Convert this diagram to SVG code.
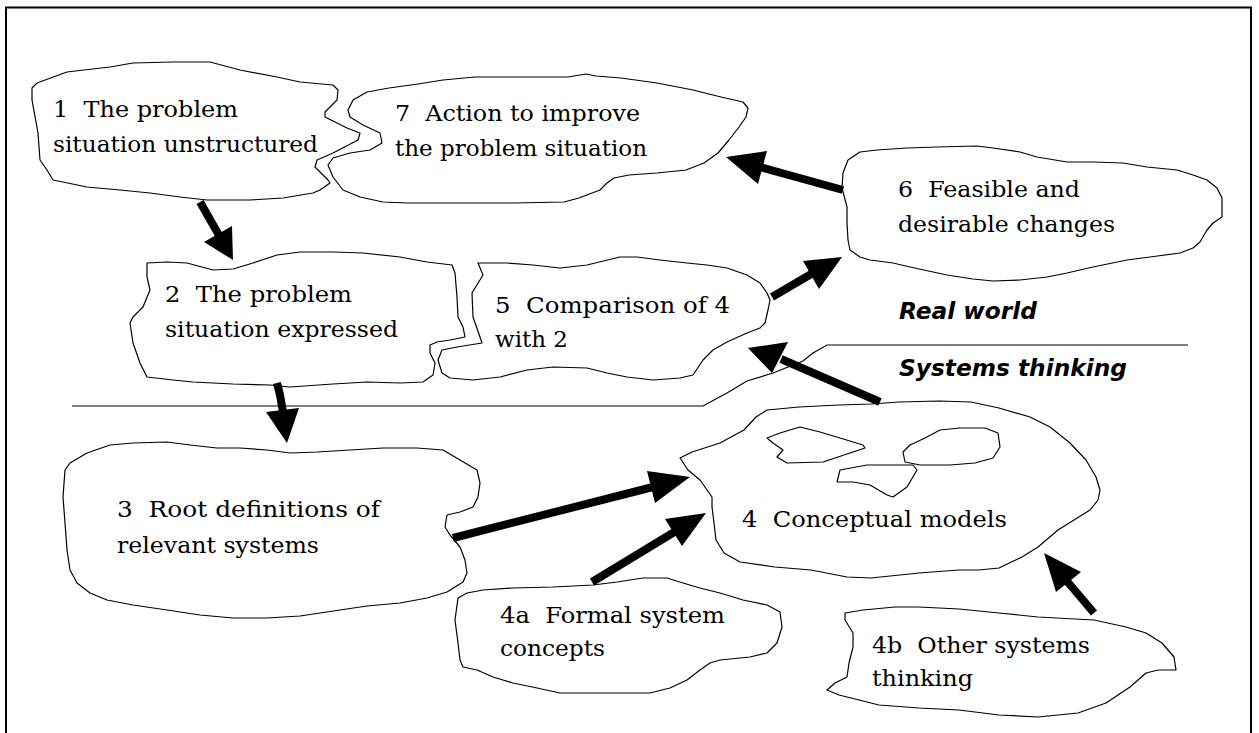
<svg xmlns="http://www.w3.org/2000/svg" width="1259" height="733" viewBox="0 0 1259 733">
<style>
.blob{fill:#fff;stroke:#000;stroke-width:1.2;stroke-linejoin:round}
.lbl{font-family:"DejaVu Serif","Liberation Serif",serif;font-size:23px;fill:#000;white-space:pre}
.zone{font-family:"DejaVu Sans","Liberation Sans",sans-serif;font-weight:bold;font-style:italic;font-size:23px;fill:#000}
.shaft{stroke:#000;stroke-width:8;fill:none;stroke-linejoin:round}
.head{fill:#000}
.rule{stroke:#000;stroke-width:1.2;fill:none}
</style>
<rect x="6" y="7.5" width="1245" height="800" fill="#fff" stroke="#000" stroke-width="2"/>
<g id="divider">
<polyline class="rule" points="72,406 703,406 727,393 747,381 773,373 803,361 813,353 827,345 1188,345"/>
<text class="zone" x="899" y="319" textLength="138" lengthAdjust="spacingAndGlyphs">Real world</text>
<text class="zone" x="899" y="376" textLength="228" lengthAdjust="spacingAndGlyphs">Systems thinking</text>
</g>
<g id="node-1">
<polygon class="blob" points="32,100 32,88 37,83 67,72 110,67 133,63 173,62 210,62 240,70 277,77 300,82 333,85 338,90 337,100 325,112 325,117 347,128 360,133 358,140 333,153 317,160 315,167 328,180 330,183 320,190 313,193 283,198 250,200 207,200 180,197 150,193 120,190 87,187 53,180 47,170 40,160 38,133"/>
<text class="lbl" x="53" y="117" textLength="185" lengthAdjust="spacingAndGlyphs">1  The problem</text>
<text class="lbl" x="53" y="152" textLength="265" lengthAdjust="spacingAndGlyphs">situation unstructured</text>
</g>
<g id="node-7">
<polygon class="blob" points="367,92 389,88 418,84 443,80 475,77 514,77 568,77 586,74 596,76 621,78 657,83 693,90 721,97 743,102 748,108 746,117 739,127 729,140 718,153 704,163 686,170 657,173 629,175 614,178 607,183 600,190 579,198 564,202 514,203 439,203 407,203 383,202 360,197 343,190 333,177 328,165 333,158 350,153 370,150 382,143 380,133 363,125 350,117 348,110 353,100"/>
<text class="lbl" x="395" y="121" textLength="245" lengthAdjust="spacingAndGlyphs">7  Action to improve</text>
<text class="lbl" x="395" y="156" textLength="252" lengthAdjust="spacingAndGlyphs">the problem situation</text>
</g>
<g id="node-6">
<polygon class="blob" points="848,160 860,152 877,150 907,148 937,147 977,146 993,148 1020,152 1037,157 1067,162 1093,162 1123,163 1147,167 1177,170 1193,175 1207,180 1217,188 1222,198 1222,217 1213,223 1207,230 1200,242 1193,248 1180,253 1150,257 1127,260 1093,267 1067,273 1047,277 1020,280 993,281 973,279 947,275 910,267 893,263 870,260 860,257 850,250 848,240 847,223 847,207 842,188 843,173"/>
<text class="lbl" x="898" y="197" textLength="182" lengthAdjust="spacingAndGlyphs">6  Feasible and</text>
<text class="lbl" x="898" y="232" textLength="217" lengthAdjust="spacingAndGlyphs">desirable changes</text>
</g>
<g id="node-2">
<polygon class="blob" points="147,263 167,262 187,263 213,270 233,269 253,263 277,255 300,252 333,252 363,253 400,257 427,262 452,265 455,273 457,297 458,317 463,327 465,337 450,340 437,342 430,345 430,353 435,363 433,375 423,382 400,383 367,382 333,384 290,387 270,385 233,384 213,383 193,382 173,380 147,377 140,363 133,343 130,323 133,317 143,307 150,290 147,277"/>
<text class="lbl" x="165" y="302" textLength="187" lengthAdjust="spacingAndGlyphs">2  The problem</text>
<text class="lbl" x="165" y="337" textLength="233" lengthAdjust="spacingAndGlyphs">situation expressed</text>
</g>
<g id="node-5">
<polygon class="blob" points="478,263 507,263 533,265 560,268 587,265 620,257 637,257 660,260 687,263 707,265 727,268 747,275 760,283 767,293 770,300 768,310 765,323 760,328 747,333 727,342 713,350 703,360 693,375 680,378 653,380 627,377 607,373 587,368 553,367 527,370 500,377 473,380 450,378 442,373 438,360 442,350 457,347 482,343 480,337 473,317 472,293 483,275"/>
<text class="lbl" x="495" y="313" textLength="235" lengthAdjust="spacingAndGlyphs">5  Comparison of 4</text>
<text class="lbl" x="495" y="347" textLength="73" lengthAdjust="spacingAndGlyphs">with 2</text>
</g>
<g id="node-3">
<polygon class="blob" points="65,470 70,463 87,453 110,445 133,443 167,442 190,445 217,448 240,448 267,450 290,453 317,452 350,450 383,448 417,448 443,450 460,460 477,470 480,483 478,497 473,507 460,512 447,515 445,527 450,535 460,547 465,560 467,573 463,582 447,592 427,598 400,603 367,606 340,610 300,616 267,618 233,618 200,615 167,610 133,605 107,600 90,593 77,583 70,570 67,550 65,523 63,497"/>
<text class="lbl" x="117" y="517" textLength="263" lengthAdjust="spacingAndGlyphs">3  Root definitions of</text>
<text class="lbl" x="117" y="553" textLength="202" lengthAdjust="spacingAndGlyphs">relevant systems</text>
</g>
<g id="node-4">
<polygon class="blob" points="680,458 692,452 720,443 744,430 756,417 767,410 799,407 839,405 871,404 899,402 939,401 971,402 999,408 1030,417 1050,427 1070,443 1086,460 1096,477 1100,490 1098,500 1090,510 1074,520 1058,530 1038,547 1022,557 999,568 979,570 959,570 919,573 871,578 847,577 811,570 775,567 740,562 724,553 716,540 714,523 712,507 712,497 700,480 688,470"/>
<polygon class="blob" points="767,438 780,433 800,427 820,432 840,438 863,445 865,448 850,453 823,462 787,463 777,457 783,450 773,443"/>
<polygon class="blob" points="905,462 903,452 910,445 925,438 940,430 960,428 985,428 998,433 1000,447 993,458 975,463 950,465 920,465"/>
<polygon class="blob" points="837,482 840,470 867,465 913,465 917,470 907,487 893,497 887,495 870,485 853,482"/>
<text class="lbl" x="742" y="527" textLength="265" lengthAdjust="spacingAndGlyphs">4  Conceptual models</text>
</g>
<g id="node-4a">
<polygon class="blob" points="458,598 467,593 483,590 513,588 553,587 593,585 617,582 643,578 667,578 683,583 700,588 720,593 743,600 767,605 780,612 782,627 777,643 767,653 750,657 720,660 710,663 700,670 687,680 670,688 650,693 607,693 560,693 537,688 513,683 493,677 477,670 463,667 460,660 458,643 455,620"/>
<text class="lbl" x="500" y="623" textLength="225" lengthAdjust="spacingAndGlyphs">4a  Formal system</text>
<text class="lbl" x="500" y="656" textLength="105" lengthAdjust="spacingAndGlyphs">concepts</text>
</g>
<g id="node-4b">
<polygon class="blob" points="845,613 863,610 895,607 919,607 959,609 999,613 1038,617 1094,620 1126,627 1146,633 1162,643 1174,657 1176,670 1158,670 1146,673 1130,687 1106,703 1078,713 1038,717 999,715 959,710 919,708 879,705 839,695 827,690 835,683 847,677 849,663 853,647 853,633 845,620"/>
<text class="lbl" x="872" y="653" textLength="218" lengthAdjust="spacingAndGlyphs">4b  Other systems</text>
<text class="lbl" x="872" y="686" textLength="101" lengthAdjust="spacingAndGlyphs">thinking</text>
</g>
<g id="connectors">
<line class="shaft" x1="200" y1="202" x2="220" y2="237"/>
<polygon class="head" points="233,260 232,226 204,242"/>
<polyline class="shaft" points="277,383 280,395 283,412"/>
<polygon class="head" points="287,443 266,412 299,408"/>
<line class="shaft" x1="453" y1="538" x2="653" y2="487"/>
<polygon class="head" points="690,477 655,503 647,471"/>
<line class="shaft" x1="592" y1="582" x2="676" y2="531"/>
<polygon class="head" points="706,513 682,546 665,519"/>
<line class="shaft" x1="1094" y1="613" x2="1066" y2="580"/>
<polygon class="head" points="1044,553 1056,592 1081,572"/>
<line class="shaft" x1="880" y1="402" x2="781" y2="359"/>
<polygon class="head" points="748,348 788,342 772,373"/>
<line class="shaft" x1="772" y1="297" x2="813" y2="273"/>
<polygon class="head" points="842,257 819,289 803,261"/>
<line class="shaft" x1="843" y1="190" x2="760" y2="167"/>
<polygon class="head" points="726,157 767,151 758,184"/>
</g>
</svg>
